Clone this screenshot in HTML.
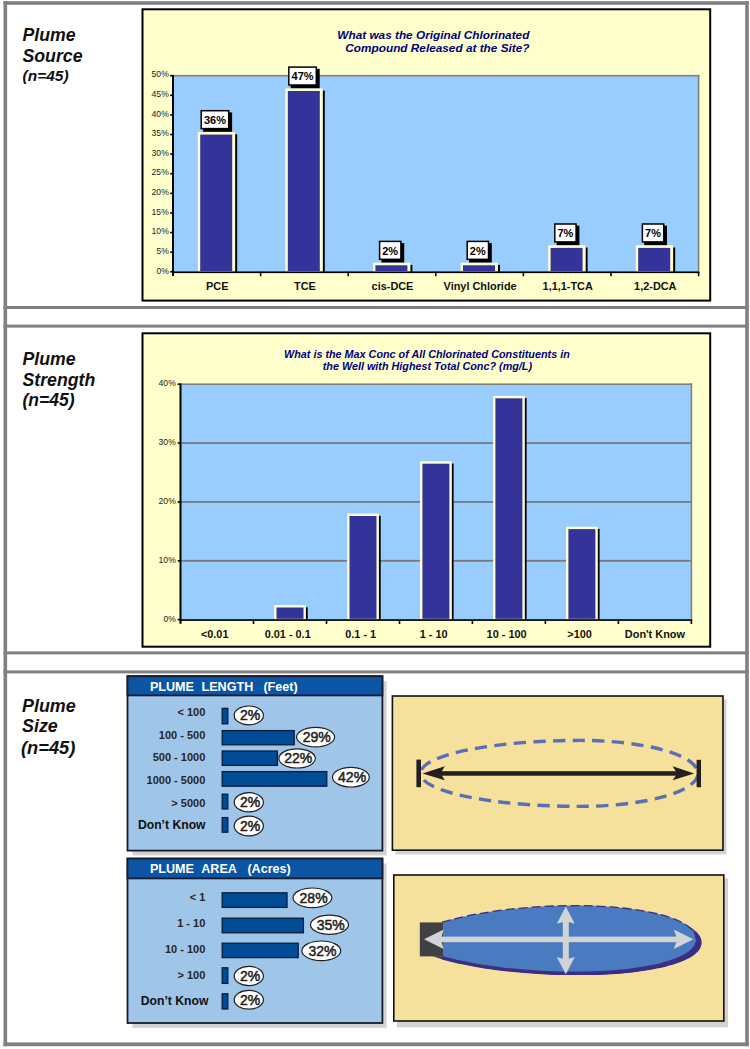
<!DOCTYPE html>
<html><head><meta charset="utf-8"><title>Plume survey</title>
<style>
html,body{margin:0;padding:0;background:#fff;}
body{width:750px;height:1049px;overflow:hidden;font-family:"Liberation Sans",sans-serif;}
svg{display:block;}
text{font-family:"Liberation Sans",sans-serif;}
.bi{font-weight:bold;font-style:italic;fill:#111;}
.ttl{font-weight:bold;font-style:italic;fill:#000080;}
.ax{font-size:8.6px;fill:#1c1c1c;}
.cat{font-size:10.9px;font-weight:bold;fill:#111;}
.dl{font-size:11px;font-weight:bold;fill:#000;}
.hd{font-size:12.6px;font-weight:bold;fill:#fff;}
.rl{font-size:11px;font-weight:bold;fill:#262626;}
.dk{font-size:12.2px;font-weight:bold;fill:#111;}
.pc{font-size:14px;fill:#231f20;stroke:#231f20;stroke-width:0.5px;}
</style></head><body>
<svg width="750" height="1049" viewBox="0 0 750 1049">
<rect x="0" y="0" width="750" height="1049" fill="#fff"/>
<rect x="3.5" y="1.2" width="3.6" height="1045" fill="#808080"/>
<rect x="745.2" y="1.2" width="3.6" height="1045" fill="#808080"/>
<rect x="3.5" y="1.2" width="745.3" height="3.6" fill="#808080"/>
<rect x="3.5" y="1042.4" width="745.3" height="3.8" fill="#808080"/>
<rect x="3.5" y="306.0" width="745" height="3" fill="#808080"/>
<rect x="3.5" y="324.6" width="745" height="3" fill="#808080"/>
<rect x="3.5" y="651.4" width="745" height="3" fill="#808080"/>
<rect x="3.5" y="670.4" width="745" height="3" fill="#808080"/>
<text class="bi" x="22.5" y="41.3" font-size="17.7">Plume</text>
<text class="bi" x="22.5" y="62.1" font-size="17.7">Source</text>
<text class="bi" x="22.5" y="81.3" font-size="15.5">(n=45)</text>
<text class="bi" x="22.5" y="365.4" font-size="17.7">Plume</text>
<text class="bi" x="22.5" y="385.8" font-size="17.7">Strength</text>
<text class="bi" x="22.5" y="406.4" font-size="17.5">(n=45)</text>
<text class="bi" x="22.0" y="711.8" font-size="17.9">Plume</text>
<text class="bi" x="22.0" y="732.4" font-size="17.9">Size</text>
<text class="bi" x="21.0" y="754.3" font-size="18.3">(n=45)</text>
<rect x="142.5" y="9.3" width="567.7" height="291.3" fill="#ffffcc" stroke="#000" stroke-width="2"/>
<rect x="173.0" y="75.7" width="525.6" height="196.10000000000002" fill="#99ccff"/>
<rect x="173.0" y="74.9" width="526.4" height="1.6" fill="#808080"/>
<rect x="697.8000000000001" y="74.9" width="1.6" height="196.10000000000002" fill="#808080"/>
<text class="ttl" font-size="11.8" x="337.3" y="38.6">What was the Original Chlorinated</text>
<text class="ttl" font-size="11.8" x="345.3" y="52.0">Compound Released at the Site?</text>
<rect x="235.2" y="134.2" width="2" height="137.6" fill="#000"/>
<rect x="197.8" y="132.0" width="37.2" height="139.8" fill="#ffffcc"/>
<rect x="200.2" y="134.6" width="32.0" height="136.4" fill="#333399"/>
<rect x="203.1" y="112.4" width="29.0" height="19.4" fill="#000"/>
<rect x="201.2" y="110.7" width="27.5" height="17.9" fill="#fff" stroke="#000" stroke-width="1.5"/>
<text class="dl" text-anchor="middle" x="215.0" y="123.9">36%</text>
<rect x="322.8" y="90.6" width="2" height="181.2" fill="#000"/>
<rect x="285.4" y="88.4" width="37.2" height="183.4" fill="#ffffcc"/>
<rect x="287.8" y="91.0" width="32.0" height="180.0" fill="#333399"/>
<rect x="290.7" y="68.8" width="29.0" height="19.4" fill="#000"/>
<rect x="288.8" y="67.1" width="27.5" height="17.9" fill="#fff" stroke="#000" stroke-width="1.5"/>
<text class="dl" text-anchor="middle" x="302.6" y="80.3">47%</text>
<rect x="410.4" y="264.9" width="2" height="6.9" fill="#000"/>
<rect x="373.0" y="262.7" width="37.2" height="9.1" fill="#ffffcc"/>
<rect x="375.4" y="265.3" width="32.0" height="5.7" fill="#333399"/>
<rect x="381.4" y="243.1" width="22.8" height="19.4" fill="#000"/>
<rect x="379.6" y="241.4" width="21.3" height="17.9" fill="#fff" stroke="#000" stroke-width="1.5"/>
<text class="dl" text-anchor="middle" x="390.2" y="254.6">2%</text>
<rect x="498.0" y="264.9" width="2" height="6.9" fill="#000"/>
<rect x="460.6" y="262.7" width="37.2" height="9.1" fill="#ffffcc"/>
<rect x="463.0" y="265.3" width="32.0" height="5.7" fill="#333399"/>
<rect x="469.0" y="243.1" width="22.8" height="19.4" fill="#000"/>
<rect x="467.2" y="241.4" width="21.3" height="17.9" fill="#fff" stroke="#000" stroke-width="1.5"/>
<text class="dl" text-anchor="middle" x="477.8" y="254.6">2%</text>
<rect x="585.6" y="247.5" width="2" height="24.3" fill="#000"/>
<rect x="548.2" y="245.3" width="37.2" height="26.5" fill="#ffffcc"/>
<rect x="550.6" y="247.9" width="32.0" height="23.1" fill="#333399"/>
<rect x="556.6" y="225.7" width="22.8" height="19.4" fill="#000"/>
<rect x="554.8" y="224.0" width="21.3" height="17.9" fill="#fff" stroke="#000" stroke-width="1.5"/>
<text class="dl" text-anchor="middle" x="565.4" y="237.2">7%</text>
<rect x="673.2" y="247.5" width="2" height="24.3" fill="#000"/>
<rect x="635.8" y="245.3" width="37.2" height="26.5" fill="#ffffcc"/>
<rect x="638.2" y="247.9" width="32.0" height="23.1" fill="#333399"/>
<rect x="644.2" y="225.7" width="22.8" height="19.4" fill="#000"/>
<rect x="642.4" y="224.0" width="21.3" height="17.9" fill="#fff" stroke="#000" stroke-width="1.5"/>
<text class="dl" text-anchor="middle" x="653.0" y="237.2">7%</text>
<rect x="172.0" y="74.9" width="2" height="201.10000000000002" fill="#000"/>
<rect x="172.0" y="271.40000000000003" width="527.4" height="1.7" fill="#000"/>
<rect x="170.2" y="74.9" width="2.8" height="1.6" fill="#000"/>
<text class="ax" text-anchor="end" x="168.8" y="77.4">50%</text>
<rect x="170.2" y="94.5" width="2.8" height="1.6" fill="#000"/>
<text class="ax" text-anchor="end" x="168.8" y="97.0">45%</text>
<rect x="170.2" y="114.1" width="2.8" height="1.6" fill="#000"/>
<text class="ax" text-anchor="end" x="168.8" y="116.6">40%</text>
<rect x="170.2" y="133.7" width="2.8" height="1.6" fill="#000"/>
<text class="ax" text-anchor="end" x="168.8" y="136.2">35%</text>
<rect x="170.2" y="153.3" width="2.8" height="1.6" fill="#000"/>
<text class="ax" text-anchor="end" x="168.8" y="155.8">30%</text>
<rect x="170.2" y="172.9" width="2.8" height="1.6" fill="#000"/>
<text class="ax" text-anchor="end" x="168.8" y="175.4">25%</text>
<rect x="170.2" y="192.6" width="2.8" height="1.6" fill="#000"/>
<text class="ax" text-anchor="end" x="168.8" y="195.1">20%</text>
<rect x="170.2" y="212.2" width="2.8" height="1.6" fill="#000"/>
<text class="ax" text-anchor="end" x="168.8" y="214.7">15%</text>
<rect x="170.2" y="231.8" width="2.8" height="1.6" fill="#000"/>
<text class="ax" text-anchor="end" x="168.8" y="234.3">10%</text>
<rect x="170.2" y="251.4" width="2.8" height="1.6" fill="#000"/>
<text class="ax" text-anchor="end" x="168.8" y="253.9">5%</text>
<rect x="170.2" y="271.0" width="2.8" height="1.6" fill="#000"/>
<text class="ax" text-anchor="end" x="168.8" y="273.5">0%</text>
<rect x="259.8" y="271.8" width="1.6" height="4.4" fill="#000"/>
<rect x="347.4" y="271.8" width="1.6" height="4.4" fill="#000"/>
<rect x="435.0" y="271.8" width="1.6" height="4.4" fill="#000"/>
<rect x="522.6" y="271.8" width="1.6" height="4.4" fill="#000"/>
<rect x="610.2" y="271.8" width="1.6" height="4.4" fill="#000"/>
<rect x="697.8" y="271.8" width="1.6" height="4.4" fill="#000"/>
<text class="cat" text-anchor="middle" x="217.3" y="290.3">PCE</text>
<text class="cat" text-anchor="middle" x="304.9" y="290.3">TCE</text>
<text class="cat" text-anchor="middle" x="392.5" y="290.3">cis-DCE</text>
<text class="cat" text-anchor="middle" x="480.1" y="290.3">Vinyl Chloride</text>
<text class="cat" text-anchor="middle" x="567.7" y="290.3">1,1,1-TCA</text>
<text class="cat" text-anchor="middle" x="655.3" y="290.3">1,2-DCA</text>
<rect x="142.5" y="333.3" width="567.7" height="313.4" fill="#ffffcc" stroke="#000" stroke-width="2"/>
<rect x="180.5" y="384.2" width="510.9" height="235.40000000000003" fill="#99ccff"/>
<rect x="180.5" y="442.2" width="510.9" height="1.8" fill="#7a7a7a"/>
<rect x="180.5" y="501.0" width="510.9" height="1.8" fill="#7a7a7a"/>
<rect x="180.5" y="559.9" width="510.9" height="1.8" fill="#7a7a7a"/>
<rect x="180.5" y="383.4" width="511.7" height="1.6" fill="#808080"/>
<rect x="690.6" y="383.4" width="1.6" height="235.40000000000003" fill="#808080"/>
<text class="ttl" font-size="10.8" text-anchor="middle" x="426.9" y="358.4">What is the Max Conc of All Chlorinated Constituents in</text>
<text class="ttl" font-size="10.8" text-anchor="middle" x="427.4" y="370.0">the Well with Highest Total Conc? (mg/L)</text>
<rect x="305.7" y="607.3" width="2" height="12.3" fill="#000"/>
<rect x="274.2" y="605.1" width="31.6" height="14.5" fill="#ffffcc"/>
<rect x="276.5" y="607.5" width="27.0" height="11.3" fill="#333399"/>
<rect x="378.7" y="515.8" width="2" height="103.8" fill="#000"/>
<rect x="347.2" y="513.6" width="31.6" height="106.0" fill="#ffffcc"/>
<rect x="349.5" y="516.0" width="27.0" height="102.8" fill="#333399"/>
<rect x="451.6" y="463.5" width="2" height="156.1" fill="#000"/>
<rect x="420.1" y="461.3" width="31.6" height="158.3" fill="#ffffcc"/>
<rect x="422.4" y="463.7" width="27.0" height="155.1" fill="#333399"/>
<rect x="524.6" y="398.1" width="2" height="221.5" fill="#000"/>
<rect x="493.1" y="395.9" width="31.6" height="223.7" fill="#ffffcc"/>
<rect x="495.4" y="398.3" width="27.0" height="220.5" fill="#333399"/>
<rect x="597.6" y="528.9" width="2" height="90.7" fill="#000"/>
<rect x="566.1" y="526.7" width="31.6" height="92.9" fill="#ffffcc"/>
<rect x="568.4" y="529.1" width="27.0" height="89.7" fill="#333399"/>
<rect x="179.5" y="383.4" width="2" height="240.40000000000003" fill="#000"/>
<rect x="179.5" y="619.2" width="512.6999999999999" height="1.7" fill="#000"/>
<rect x="177.7" y="383.4" width="2.8" height="1.6" fill="#000"/>
<text class="ax" text-anchor="end" x="175.8" y="386.2">40%</text>
<rect x="177.7" y="442.2" width="2.8" height="1.6" fill="#000"/>
<text class="ax" text-anchor="end" x="175.8" y="445.1">30%</text>
<rect x="177.7" y="501.1" width="2.8" height="1.6" fill="#000"/>
<text class="ax" text-anchor="end" x="175.8" y="503.9">20%</text>
<rect x="177.7" y="560.0" width="2.8" height="1.6" fill="#000"/>
<text class="ax" text-anchor="end" x="175.8" y="562.8">10%</text>
<rect x="177.7" y="618.8" width="2.8" height="1.6" fill="#000"/>
<text class="ax" text-anchor="end" x="175.8" y="621.6">0%</text>
<rect x="252.7" y="619.6" width="1.6" height="4.4" fill="#000"/>
<rect x="325.7" y="619.6" width="1.6" height="4.4" fill="#000"/>
<rect x="398.7" y="619.6" width="1.6" height="4.4" fill="#000"/>
<rect x="471.6" y="619.6" width="1.6" height="4.4" fill="#000"/>
<rect x="544.6" y="619.6" width="1.6" height="4.4" fill="#000"/>
<rect x="617.6" y="619.6" width="1.6" height="4.4" fill="#000"/>
<rect x="690.6" y="619.6" width="1.6" height="4.4" fill="#000"/>
<text class="cat" text-anchor="middle" x="214.7" y="637.6">&lt;0.01</text>
<text class="cat" text-anchor="middle" x="287.7" y="637.6">0.01 - 0.1</text>
<text class="cat" text-anchor="middle" x="360.7" y="637.6">0.1 - 1</text>
<text class="cat" text-anchor="middle" x="433.6" y="637.6">1 - 10</text>
<text class="cat" text-anchor="middle" x="506.6" y="637.6">10 - 100</text>
<text class="cat" text-anchor="middle" x="579.6" y="637.6">&gt;100</text>
<text class="cat" text-anchor="middle" x="654.9" y="637.6">Don't Know</text>
<rect x="132.5" y="681.2" width="254.09999999999997" height="174.2" fill="#d2d2d2"/>
<rect x="127.5" y="676.2" width="254.89999999999998" height="174.39999999999998" fill="#9fc5e9" stroke="#1a1a2e" stroke-width="1.8"/>
<rect x="127.5" y="676.2" width="254.89999999999998" height="19.199999999999932" fill="#0b55a5" stroke="#1a1a2e" stroke-width="1.8"/>
<text class="hd" x="149.9" y="690.9">PLUME</text>
<text class="hd" x="201.5" y="690.9">LENGTH</text>
<text class="hd" x="263.4" y="690.9">(Feet)</text>
<text class="rl" text-anchor="end" x="205.3" y="715.8">&lt; 100</text>
<rect x="222.2" y="708.4" width="5.6" height="15.4" fill="#004c97" stroke="#0c1c3c" stroke-width="1.3"/>
<ellipse cx="248.8" cy="715.4" rx="14.6" ry="9.4" fill="#fff" stroke="#231f20" stroke-width="1.2"/>
<text class="pc" text-anchor="middle" x="250.0" y="720.4">2%</text>
<text class="rl" text-anchor="end" x="205.3" y="738.6">100 - 500</text>
<rect x="222.2" y="730.6" width="72.0" height="14.2" fill="#004c97" stroke="#0c1c3c" stroke-width="1.3"/>
<ellipse cx="315.6" cy="737.1" rx="19.0" ry="9.8" fill="#fff" stroke="#231f20" stroke-width="1.2"/>
<text class="pc" text-anchor="middle" x="316.8" y="742.1">29%</text>
<text class="rl" text-anchor="end" x="205.3" y="761.4">500 - 1000</text>
<rect x="222.2" y="751.0" width="55.2" height="14.4" fill="#004c97" stroke="#0c1c3c" stroke-width="1.3"/>
<ellipse cx="297.1" cy="758.4" rx="18.2" ry="9.6" fill="#fff" stroke="#231f20" stroke-width="1.2"/>
<text class="pc" text-anchor="middle" x="298.3" y="763.4">22%</text>
<text class="rl" text-anchor="end" x="205.3" y="784.0">1000 - 5000</text>
<rect x="222.2" y="771.6" width="104.6" height="14.6" fill="#004c97" stroke="#0c1c3c" stroke-width="1.3"/>
<ellipse cx="350.9" cy="777.2" rx="18.4" ry="9.8" fill="#fff" stroke="#231f20" stroke-width="1.2"/>
<text class="pc" text-anchor="middle" x="352.09999999999997" y="782.2">42%</text>
<text class="rl" text-anchor="end" x="205.3" y="806.6">&gt; 5000</text>
<rect x="222.2" y="794.2" width="5.6" height="14.8" fill="#004c97" stroke="#0c1c3c" stroke-width="1.3"/>
<ellipse cx="248.8" cy="802.3" rx="14.6" ry="9.6" fill="#fff" stroke="#231f20" stroke-width="1.2"/>
<text class="pc" text-anchor="middle" x="250.0" y="807.3">2%</text>
<text class="dk" text-anchor="end" x="205.6" y="829.0">Don’t Know</text>
<rect x="222.2" y="817.6" width="5.6" height="14.6" fill="#004c97" stroke="#0c1c3c" stroke-width="1.3"/>
<ellipse cx="248.8" cy="826.0" rx="14.6" ry="9.8" fill="#fff" stroke="#231f20" stroke-width="1.2"/>
<text class="pc" text-anchor="middle" x="250.0" y="831.0">2%</text>
<rect x="132.5" y="863.6" width="254.09999999999997" height="164.2" fill="#d2d2d2"/>
<rect x="127.5" y="858.6" width="254.89999999999998" height="164.39999999999998" fill="#9fc5e9" stroke="#1a1a2e" stroke-width="1.8"/>
<rect x="127.5" y="858.6" width="254.89999999999998" height="19.799999999999955" fill="#0b55a5" stroke="#1a1a2e" stroke-width="1.8"/>
<text class="hd" x="149.9" y="873.2">PLUME</text>
<text class="hd" x="201.2" y="873.2">AREA</text>
<text class="hd" x="247.4" y="873.2">(Acres)</text>
<text class="rl" text-anchor="end" x="205.3" y="901.0">&lt; 1</text>
<rect x="222.2" y="892.8" width="64.8" height="14.6" fill="#004c97" stroke="#0c1c3c" stroke-width="1.3"/>
<ellipse cx="312.4" cy="897.8" rx="19.4" ry="9.8" fill="#fff" stroke="#231f20" stroke-width="1.2"/>
<text class="pc" text-anchor="middle" x="313.59999999999997" y="902.8">28%</text>
<text class="rl" text-anchor="end" x="205.3" y="927.0">1 - 10</text>
<rect x="222.2" y="918.2" width="81.2" height="14.6" fill="#004c97" stroke="#0c1c3c" stroke-width="1.3"/>
<ellipse cx="329.5" cy="924.8" rx="19.0" ry="9.6" fill="#fff" stroke="#231f20" stroke-width="1.2"/>
<text class="pc" text-anchor="middle" x="330.7" y="929.8">35%</text>
<text class="rl" text-anchor="end" x="205.3" y="952.8">10 - 100</text>
<rect x="222.2" y="943.2" width="76.0" height="14.4" fill="#004c97" stroke="#0c1c3c" stroke-width="1.3"/>
<ellipse cx="321.3" cy="950.8" rx="19.4" ry="9.8" fill="#fff" stroke="#231f20" stroke-width="1.2"/>
<text class="pc" text-anchor="middle" x="322.5" y="955.8">32%</text>
<text class="rl" text-anchor="end" x="205.3" y="979.0">&gt; 100</text>
<rect x="222.2" y="967.8" width="5.6" height="15.6" fill="#004c97" stroke="#0c1c3c" stroke-width="1.3"/>
<ellipse cx="248.8" cy="976.0" rx="14.6" ry="9.6" fill="#fff" stroke="#231f20" stroke-width="1.2"/>
<text class="pc" text-anchor="middle" x="250.0" y="981.0">2%</text>
<text class="dk" text-anchor="end" x="208.4" y="1004.8">Don’t Know</text>
<rect x="222.2" y="993.8" width="5.6" height="15.2" fill="#004c97" stroke="#0c1c3c" stroke-width="1.3"/>
<ellipse cx="248.8" cy="999.8" rx="14.6" ry="9.4" fill="#fff" stroke="#231f20" stroke-width="1.2"/>
<text class="pc" text-anchor="middle" x="250.0" y="1004.8">2%</text>
<rect x="395.5" y="699.4" width="331" height="155" fill="#d2d2d2"/>
<rect x="392.4" y="696" width="330.6" height="154.2" fill="#f5e19b" stroke="#111" stroke-width="1.6"/>
<path d="M420.4 773.4 A160 33 0 0 1 580 740.4 A118 33 0 0 1 698 773.4 A118 33 0 0 1 580 806.4 A160 33 0 0 1 420.4 773.4 Z" fill="none" stroke="#5b6eb8" stroke-width="3.4" stroke-dasharray="12.3 7.3" stroke-dashoffset="15.8"/>
<rect x="416.4" y="759.6" width="4.6" height="27.6" fill="#231f20"/>
<rect x="696.6" y="759.8" width="4.4" height="27.4" fill="#231f20"/>
<rect x="438" y="771.2" width="242" height="4.5" fill="#231f20"/>
<path d="M422.6 773.4 L444.8 766.2 L440.6 773.4 L444.8 780.2 Z" fill="#231f20"/>
<path d="M694.2 773.4 L672.6 766.2 L677.2 773.4 L672.6 780.2 Z" fill="#231f20"/>
<rect x="397" y="878.4" width="331" height="149" fill="#d2d2d2"/>
<rect x="393.8" y="875" width="330" height="146" fill="#f5e19b" stroke="#111" stroke-width="1.6"/>
<path d="M442 922.2 C480 911 530 905.6 575 905.6 C640 905.6 696 918 696 939 C696 960 640 971.6 575 971.6 C530 971.6 480 966.5 442 956 Z" fill="#3b2e83" transform="translate(5.6 3.4)"/>
<path d="M442 922.2 C480 911 530 905.6 575 905.6 C640 905.6 696 918 696 939 C696 960 640 971.6 575 971.6 C530 971.6 480 966.5 442 956 Z" fill="#3b2e83" transform="translate(2.8 3.4)"/>
<path d="M442 922.2 C480 911 530 905.6 575 905.6 C640 905.6 696 918 696 939 C696 960 640 971.6 575 971.6 C530 971.6 480 966.5 442 956 Z" fill="#3b2e83" transform="translate(0 3.5)"/>
<path d="M432.6 956.2 L443 956.2 L443 959.6 Z" fill="#3b2e83"/>
<path d="M442 922.2 C480 911 530 905.6 575 905.6 C640 905.6 696 918 696 939 C696 960 640 971.6 575 971.6 C530 971.6 480 966.5 442 956 Z" fill="#4a7abf"/>
<path d="M442 922.2 C480 911 530 905.6 575 905.6 C640 905.6 696 918 696 939" fill="none" stroke="#3b2e83" stroke-width="1.3" stroke-dasharray="9 4"/>
<rect x="419.8" y="922.4" width="23.2" height="34" fill="#414042"/>
<rect x="440" y="936.6" width="240" height="5.6" fill="#d1d3d4"/>
<path d="M424 939.3 L443.6 929.6 L440.8 939.3 L443.6 948.9 Z" fill="#d1d3d4"/>
<path d="M693.4 939.3 L673.8 929.6 L677.4 939.3 L673.8 948.9 Z" fill="#d1d3d4"/>
<rect x="562.8" y="920" width="6" height="40" fill="#d1d3d4"/>
<path d="M565.8 906.6 L556.8 923.8 L565.8 921.2 L574.8 923.8 Z" fill="#d1d3d4"/>
<path d="M565.8 974.2 L556.8 957.0 L565.8 959.6 L574.8 957.0 Z" fill="#d1d3d4"/>
</svg>
</body></html>
